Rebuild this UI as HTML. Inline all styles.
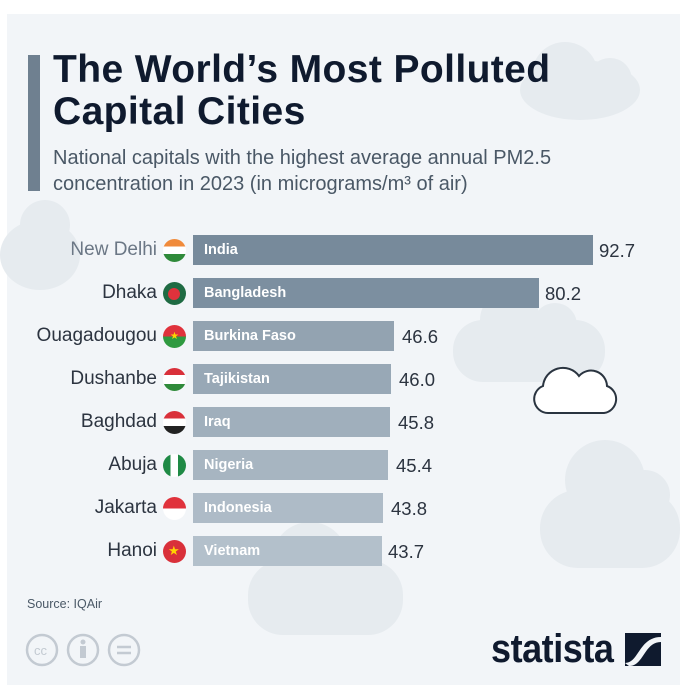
<!DOCTYPE html>
<html><head><meta charset="utf-8"><style>
*{margin:0;padding:0;box-sizing:border-box}
body{width:685px;height:700px;background:#fff;position:relative;overflow:hidden;font-family:"Liberation Sans",sans-serif}
.card{position:absolute;left:7px;top:14px;width:673px;height:671px;background:#f2f5f8}
.abs{position:absolute}
.title{left:53px;top:49px;font-size:39px;font-weight:bold;color:#0f1a2e;line-height:42px;letter-spacing:0.4px;white-space:nowrap}
.sub{left:53px;top:145px;font-size:20px;color:#4a5866;line-height:26px;white-space:nowrap}
.lbl{position:absolute;right:528px;font-size:19px;color:#2c3440;text-align:right;white-space:nowrap}
.bar{position:absolute;left:193px;height:30px;color:#fff;font-weight:bold;font-size:14.5px;line-height:30px;padding-left:11px}
.val{position:absolute;font-size:18.5px;color:#2c3440}
.flag{position:absolute;left:163px;width:23px;height:23px;border-radius:50%;overflow:hidden}
</style></head><body>
<div class="card"></div>
<svg class="abs" style="left:0;top:0" width="685" height="700">
 <g fill="#e6ebef">
  <ellipse cx="580" cy="90" rx="60" ry="30"/><circle cx="565" cy="75" r="33"/><circle cx="610" cy="80" r="22"/>
  <ellipse cx="40" cy="255" rx="40" ry="35"/><circle cx="45" cy="225" r="25"/>
  <rect x="453" y="320" width="152" height="62" rx="30"/><circle cx="510" cy="320" r="30"/><circle cx="555" cy="325" r="22"/>
  <rect x="540" y="490" width="140" height="78" rx="38"/><circle cx="605" cy="480" r="40"/><circle cx="645" cy="495" r="25"/>
  <rect x="248" y="560" width="155" height="75" rx="35"/><circle cx="310" cy="560" r="38"/><circle cx="355" cy="570" r="25"/>
 </g>
 <path d="M548 413 H604 a14 14 0 0 0 3 -27 a16 16 0 0 0 -28 -10 a20 20 0 0 0 -36 10 a14 14 0 0 0 5 27 Z" fill="#fff" stroke="#2a3440" stroke-width="2"/>
 <rect x="28" y="55" width="12" height="136" fill="#6f8090"/>
</svg>
<div class="abs title">The World’s Most Polluted<br>Capital Cities</div>
<div class="abs sub">National capitals with the highest average annual PM2.5<br>concentration in 2023 (in micrograms/m³ of air)</div>

<div class="lbl" style="top:239px;color:#6b7785">New Delhi</div>
<div class="flag" style="top:239px;background:linear-gradient(#f08a3a 33%,#fff 33% 66%,#2f8a3a 66%)"></div>
<div class="bar" style="top:235px;width:400px;background:#778a9b">India</div>
<div class="val" style="top:240px;left:599px">92.7</div>

<div class="lbl" style="top:282px">Dhaka</div>
<div class="flag" style="top:282px;background:#1f6b43"><div style="position:absolute;left:5px;top:6px;width:12px;height:12px;border-radius:50%;background:#e0323c"></div></div>
<div class="bar" style="top:278px;width:346px;background:#7c8fa0">Bangladesh</div>
<div class="val" style="top:283px;left:545px">80.2</div>

<div class="lbl" style="top:325px">Ouagadougou</div>
<div class="flag" style="top:325px;background:linear-gradient(#e0323c 50%,#2f9a40 50%)"><div style="position:absolute;left:7px;top:6px;color:#ffd500;font-size:10px">★</div></div>
<div class="bar" style="top:321px;width:201px;background:#93a3b1">Burkina Faso</div>
<div class="val" style="top:326px;left:402px">46.6</div>

<div class="lbl" style="top:368px">Dushanbe</div>
<div class="flag" style="top:368px;background:linear-gradient(#d9303a 30%,#fff 30% 70%,#2f8a3a 70%)"></div>
<div class="bar" style="top:364px;width:198px;background:#98a8b6">Tajikistan</div>
<div class="val" style="top:369px;left:399px">46.0</div>

<div class="lbl" style="top:411px">Baghdad</div>
<div class="flag" style="top:411px;background:linear-gradient(#d9303a 33%,#fff 33% 66%,#222 66%)"></div>
<div class="bar" style="top:407px;width:197px;background:#a0afbc">Iraq</div>
<div class="val" style="top:412px;left:398px">45.8</div>

<div class="lbl" style="top:454px">Abuja</div>
<div class="flag" style="top:454px;background:linear-gradient(90deg,#1f8a45 33%,#fff 33% 66%,#1f8a45 66%)"></div>
<div class="bar" style="top:450px;width:195px;background:#a7b5c1">Nigeria</div>
<div class="val" style="top:455px;left:396px">45.4</div>

<div class="lbl" style="top:497px">Jakarta</div>
<div class="flag" style="top:497px;background:linear-gradient(#e0323c 50%,#fff 50%)"></div>
<div class="bar" style="top:493px;width:190px;background:#aebbc7">Indonesia</div>
<div class="val" style="top:498px;left:391px">43.8</div>

<div class="lbl" style="top:540px">Hanoi</div>
<div class="flag" style="top:540px;background:#d9303a"><div style="position:absolute;left:5px;top:3px;color:#ffd500;font-size:13px">★</div></div>
<div class="bar" style="top:536px;width:189px;background:#b3c0cb">Vietnam</div>
<div class="val" style="top:541px;left:388px">43.7</div>

<div class="abs" style="left:27px;top:597px;font-size:12.5px;color:#4a5866">Source: IQAir</div>
<svg class="abs" style="left:25px;top:630px" width="120" height="40" fill="none" stroke="#c3cad2" stroke-width="2.5">
 <circle cx="17" cy="20" r="15"/><circle cx="58" cy="20" r="15"/><circle cx="99" cy="20" r="15"/>
 <text x="9" y="25" font-size="13" fill="#c3cad2" stroke="none" font-family="Liberation Sans">cc</text>
 <circle cx="58" cy="12" r="2.5" fill="#c3cad2" stroke="none"/><rect x="55" y="16" width="6" height="12" fill="#c3cad2" stroke="none"/>
 <line x1="92" y1="17" x2="106" y2="17"/><line x1="92" y1="23" x2="106" y2="23"/>
</svg>
<div class="abs" style="left:491px;top:627px;font-size:40px;font-weight:bold;color:#0f1a2e;letter-spacing:-0.5px;transform:scaleX(0.9);transform-origin:left top;white-space:nowrap">statista</div>
<svg class="abs" style="left:625px;top:633px" width="36" height="33">
 <rect width="36" height="33" fill="#0f1a2e"/>
 <path d="M0 30 C14 30 14 4 36 4 L36 9 C19 9 19 33 4 33 Z" fill="#f2f5f8"/>
</svg>
</body></html>
